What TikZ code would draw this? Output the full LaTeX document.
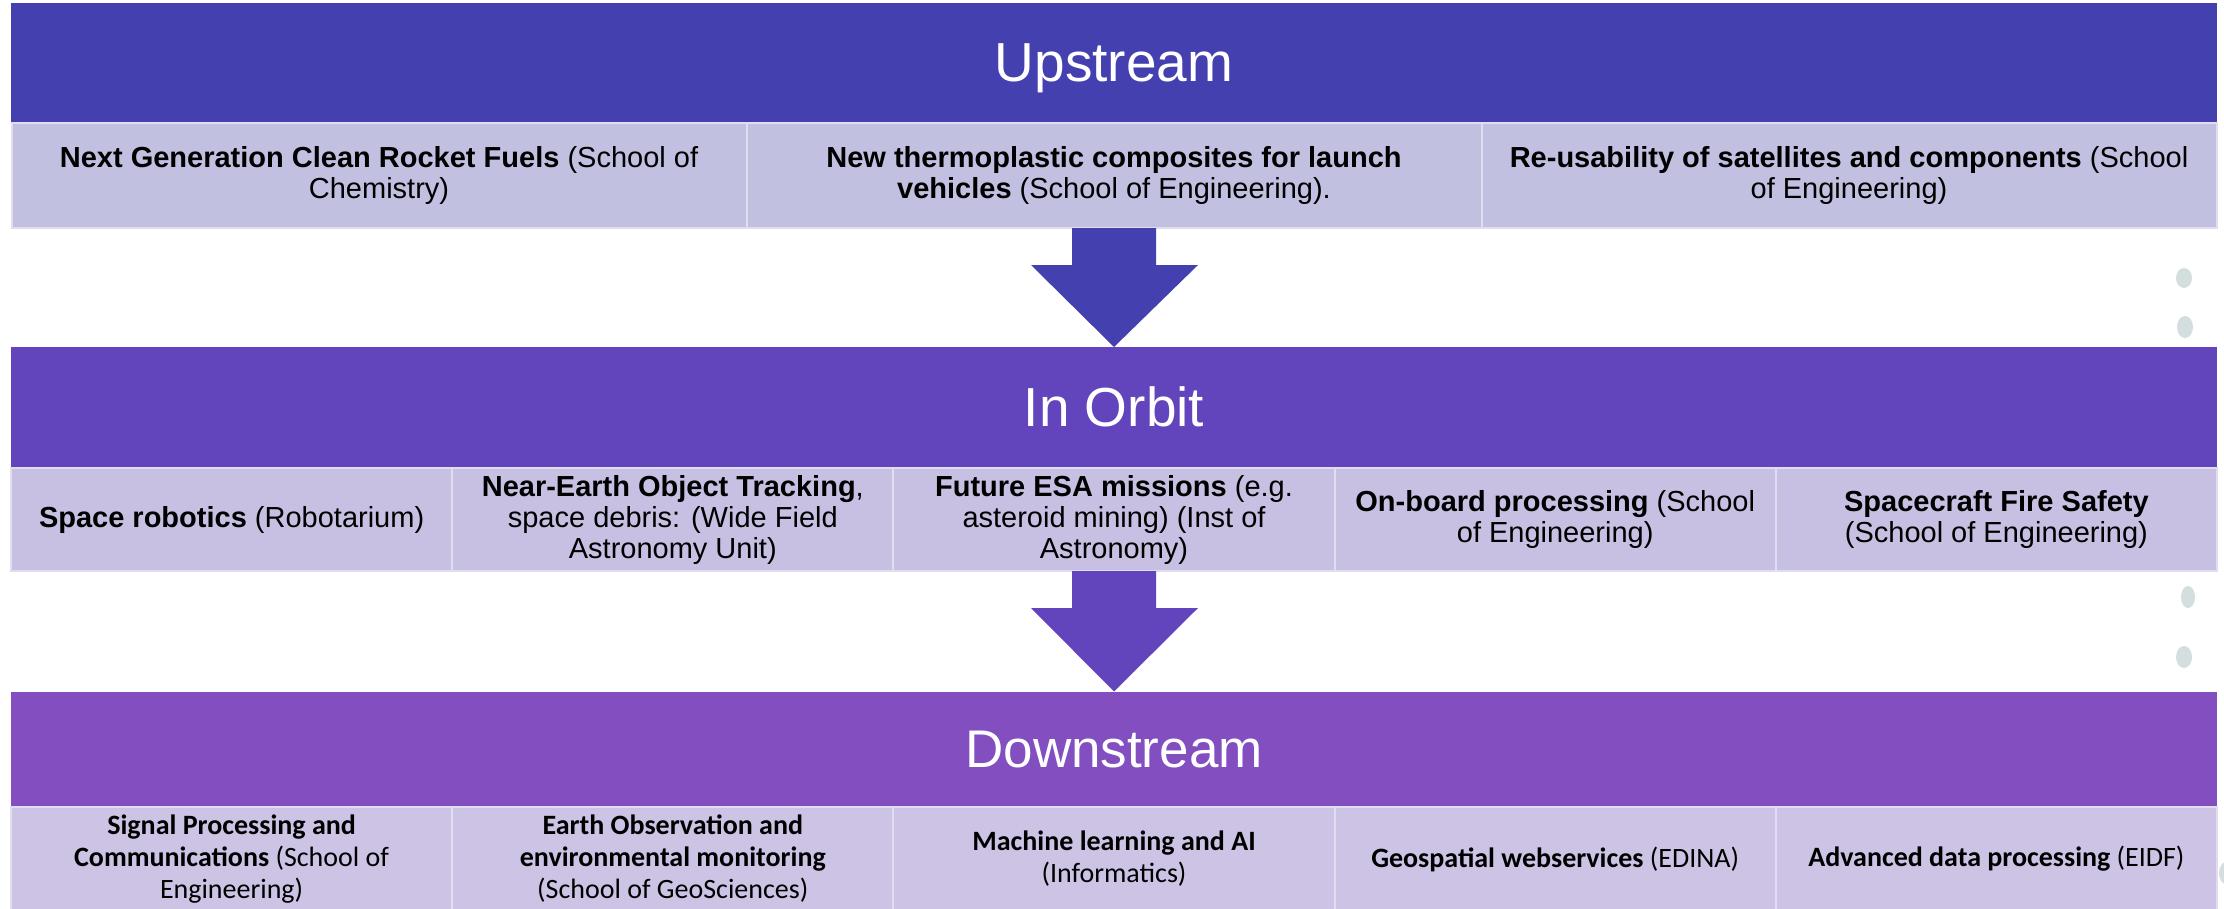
\documentclass[tikz,border=0pt]{standalone}
\usepackage{fontspec}
\setmainfont{Liberation Sans}
\newfontfamily\calfont{Carlito}
\usetikzlibrary{calc}
\definecolor{upc}{RGB}{69,64,176}
\definecolor{orbc}{RGB}{98,69,189}
\definecolor{downc}{RGB}{130,78,192}
\definecolor{uprow}{RGB}{194,192,225}
\definecolor{orbrow}{RGB}{199,192,226}
\definecolor{downrow}{RGB}{205,195,229}
\definecolor{cellline}{RGB}{224,221,241}
\definecolor{dotc}{RGB}{213,222,222}
\tikzset{
  header/.style={rectangle, inner sep=0pt, outer sep=0pt, minimum width=2206pt, text=white, text depth=0pt, font=\fontsize{55}{60}\selectfont},
  cellA/.style={rectangle, inner sep=0pt, outer sep=0pt, draw=cellline, line width=2pt, align=center, font=\fontsize{29}{31}\selectfont},
  cellB/.style={rectangle, inner sep=0pt, outer sep=0pt, draw=cellline, line width=2pt, align=center, font=\calfont\fontsize{28}{32}\selectfont},
  dotshape/.style={fill=dotc, draw=none},
}
\begin{document}
\begin{tikzpicture}[x=1pt,y=-1pt]
\useasboundingbox (0,0) rectangle (2224,908);
\clip (0,0) rectangle (2224,908);
\fill[white] (0,0) rectangle (2224,908);

% Upstream
\node[header, fill=upc, minimum height=120pt] (uph) at (1114,63) {Upstream};
\node[cellA, fill=uprow, minimum width=735pt, minimum height=105pt] (u1) at (379,175.5) {\textbf{Next Generation Clean Rocket Fuels} (School of\\Chemistry)};
\node[cellA, fill=uprow, minimum width=735pt, minimum height=105pt] (u2) at (1114,175.5) {\textbf{New thermoplastic composites for launch}\\\textbf{vehicles} (School of Engineering).};
\node[cellA, fill=uprow, minimum width=735pt, minimum height=105pt] (u3) at (1849,175.5) {\textbf{Re-usability of satellites and components} (School\\of Engineering)};

% In Orbit
\node[header, fill=orbc, minimum height=120pt] (orbh) at (1114,407) {In Orbit};
\node[cellA, fill=orbrow, minimum width=441.2pt, minimum height=103pt] (o1) at (231.6,519.5) {\textbf{Space robotics} (Robotarium)};
\node[cellA, fill=orbrow, minimum width=441.2pt, minimum height=103pt] (o2) at (672.8,519.5) {\textbf{Near-Earth Object Tracking},\\space debris: (Wide Field\\Astronomy Unit)};
\node[cellA, fill=orbrow, minimum width=441.2pt, minimum height=103pt] (o3) at (1114,519.5) {\textbf{Future ESA missions} (e.g.\\asteroid mining) (Inst of\\Astronomy)};
\node[cellA, fill=orbrow, minimum width=441.2pt, minimum height=103pt] (o4) at (1555.2,519.5) {\textbf{On-board processing} (School\\of Engineering)};
\node[cellA, fill=orbrow, minimum width=441.2pt, minimum height=103pt] (o5) at (1996.4,519.5) {\textbf{Spacecraft Fire Safety}\\(School of Engineering)};

% Downstream
\node[header, fill=downc, minimum height=115pt, font=\fontsize{53}{58}\selectfont] (downh) at (1114,749) {Downstream};
\node[cellB, fill=downrow, minimum width=441.2pt, minimum height=104pt] (d1) at (231.6,859) {\textbf{Signal Processing and}\\\textbf{Communications} (School of\\Engineering)};
\node[cellB, fill=downrow, minimum width=441.2pt, minimum height=104pt] (d2) at (672.8,859) {\textbf{Earth Observation and}\\\textbf{environmental monitoring}\\(School of GeoSciences)};
\node[cellB, fill=downrow, minimum width=441.2pt, minimum height=104pt] (d3) at (1114,859) {\textbf{Machine learning and AI}\\(Informatics)};
\node[cellB, fill=downrow, minimum width=441.2pt, minimum height=104pt] (d4) at (1555.2,859) {\textbf{Geospatial webservices} (EDINA)};
\node[cellB, fill=downrow, minimum width=441.2pt, minimum height=104pt] (d5) at (1996.4,859) {\textbf{Advanced data processing} (EIDF)};

% Arrows
\coordinate (a1s) at (u2.south);
\coordinate (a1t) at (orbh.north);
\fill[upc] ($(a1s)+(-42,0)$) -- ($(a1s)+(42,0)$) -- ($(a1s)+(42,37)$) -- ($(a1s)+(84,37)$) -- (a1t) -- ($(a1s)+(-83,37)$) -- ($(a1s)+(-42,37)$) -- cycle;
\coordinate (a2s) at (o3.south);
\coordinate (a2t) at (downh.north);
\fill[orbc] ($(a2s)+(-42,0)$) -- ($(a2s)+(42,0)$) -- ($(a2s)+(42,37)$) -- ($(a2s)+(84,37)$) -- (a2t) -- ($(a2s)+(-83,37)$) -- ($(a2s)+(-42,37)$) -- cycle;

% small decorative dots
\fill[dotshape] (2184,278) ellipse (8pt and 10pt);
\fill[dotshape] (2185,327) ellipse (8pt and 11pt);
\fill[dotshape] (2188,597) ellipse (7pt and 11pt);
\fill[dotshape] (2184,657) ellipse (8pt and 11pt);
\fill[dotshape] (2226,873) ellipse (7pt and 11pt);
\end{tikzpicture}
\end{document}
